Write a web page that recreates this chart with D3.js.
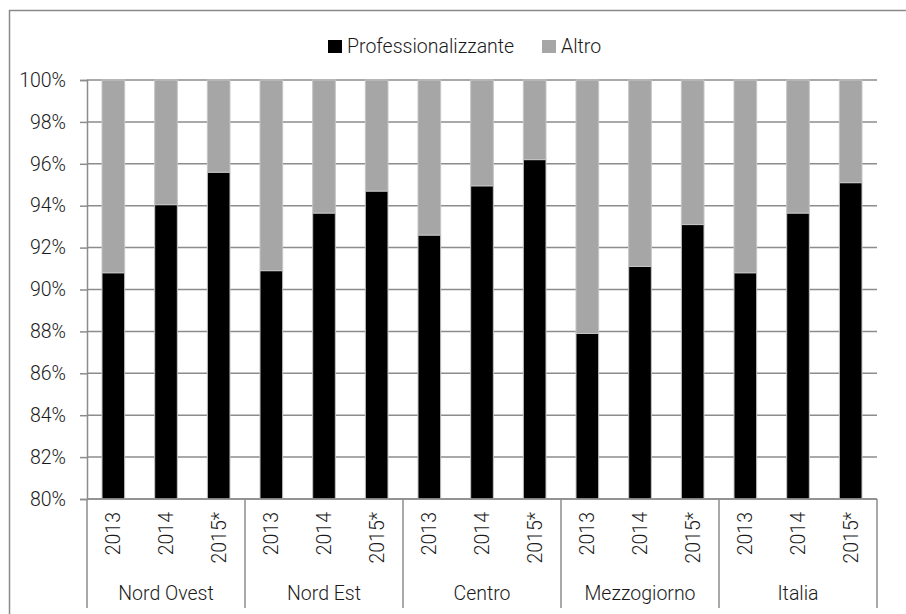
<!DOCTYPE html>
<html>
<head>
<meta charset="utf-8">
<script src="https://cdn.jsdelivr.net/npm/d3@7"></script>
<style>
  html, body { margin: 0; padding: 0; background: #fff; }
  svg { display: block; }
  text { font-family: Roboto, "Liberation Sans", sans-serif; fill: #1a1a1a; font-weight: 300; }
</style>
</head>
<body>
<svg id="chart" width="906" height="614"></svg>
<script>
// ---- data ----
const regions = ["Nord Ovest", "Nord Est", "Centro", "Mezzogiorno", "Italia"];
const years = ["2013", "2014", "2015*"];
const professionalizzante = [90.8, 94.05, 95.6, 90.9, 93.65, 94.7, 92.6, 94.95, 96.2, 87.9, 91.1, 93.1, 90.8, 93.65, 95.1];
const altro = [9.2, 5.95, 4.4, 9.1, 6.35, 5.3, 7.4, 5.05, 3.8, 12.1, 8.9, 6.9, 9.2, 6.35, 4.9];
const seriesNames = ["Professionalizzante", "Altro"];
const yTicks = [80, 82, 84, 86, 88, 90, 92, 94, 96, 98, 100];

// ---- layout ----
const svg = d3.select("#chart");
const L = 87, R = 877, T = 80, B = 499;
const colors = { "Professionalizzante": "#000000", "Altro": "#a6a6a6" };
const gridColor = "#8c8c8c";
const FS = 19.5;

// outer frame (clipped on right/bottom as in reference)
svg.append("rect").attr("x", 9.5).attr("y", 10.5).attr("width", 920).attr("height", 620)
  .attr("fill", "#fff").attr("stroke", "#8a8a8a").attr("stroke-width", 1.5);

const rows = [];
regions.forEach((r, gi) => years.forEach((y, yi) => {
  const i = gi * years.length + yi;
  rows.push({ key: r + "|" + y, region: r, year: y, prof: professionalizzante[i], altro: altro[i] });
}));

const x = d3.scaleBand().domain(rows.map(d => d.key)).range([L, R]).paddingInner(0.57).paddingOuter(0.285);
const xg = d3.scaleBand().domain(regions).range([L, R]);
const y = d3.scaleLinear().domain([80, 100]).range([B, T]);

// gridlines
svg.append("g").selectAll("line").data(yTicks).join("line")
  .attr("x1", L).attr("x2", R).attr("y1", d => y(d)).attr("y2", d => y(d))
  .attr("stroke", gridColor).attr("stroke-width", 1.5);

// y axis
const yAxis = svg.append("g").attr("transform", `translate(${L},0)`)
  .call(d3.axisLeft(y).tickValues(yTicks).tickSize(7).tickPadding(14).tickFormat(d => d + "%"));
yAxis.select(".domain").attr("stroke", gridColor).attr("stroke-width", 1.5);
yAxis.selectAll(".tick line").attr("stroke", gridColor).attr("stroke-width", 1.5);
yAxis.selectAll(".tick text").attr("font-size", FS).attr("fill", "#1a1a1a")
  .style("font-family", "Roboto, 'Liberation Sans', sans-serif").style("font-weight", 300);

// stacked bars
const stack = d3.stack().keys(["prof", "altro"]);
const stacked = stack(rows);
stacked.forEach((layer, li) => {
  svg.append("g").selectAll("rect").data(layer).join("rect")
    .attr("x", d => x(d.data.key))
    .attr("width", x.bandwidth())
    .attr("y", d => y(Math.min(100, d[1])))
    .attr("height", d => Math.max(0, y(Math.max(80, d[0])) - y(Math.min(100, d[1]))))
    .attr("fill", colors[seriesNames[li]])
    .attr("stroke", "#c4c4c4").attr("stroke-width", 1);
});

// x axis baseline
svg.append("line").attr("x1", L).attr("x2", R).attr("y1", B).attr("y2", B)
  .attr("stroke", gridColor).attr("stroke-width", 1.5);

// group separators
const seps = regions.map(r => xg(r)).concat([R]);
svg.append("g").selectAll("line").data(seps).join("line")
  .attr("x1", d => d).attr("x2", d => d).attr("y1", B).attr("y2", 608)
  .attr("stroke", gridColor).attr("stroke-width", 1.5);

// year labels
svg.append("g").selectAll("text").data(rows).join("text")
  .attr("transform", d => `translate(${x(d.key) + x.bandwidth() / 2},512) rotate(-90)`)
  .attr("text-anchor", "end").attr("dy", "0.36em")
  .attr("font-size", FS).text(d => d.year);

// region labels
svg.append("g").selectAll("text").data(regions).join("text")
  .attr("x", d => xg(d) + xg.bandwidth() / 2).attr("y", 600)
  .attr("text-anchor", "middle").attr("font-size", FS).text(d => d);

// legend
const legendItems = [
  { name: seriesNames[0], sx: 328, tx: 347 },
  { name: seriesNames[1], sx: 542, tx: 561 }
];
const lg = svg.append("g");
legendItems.forEach(it => {
  lg.append("rect").attr("x", it.sx).attr("y", 40).attr("width", 14).attr("height", 13)
    .attr("fill", colors[it.name]);
  lg.append("text").attr("x", it.tx).attr("y", 53).attr("font-size", FS).text(it.name);
});
</script>
</body>
</html>
